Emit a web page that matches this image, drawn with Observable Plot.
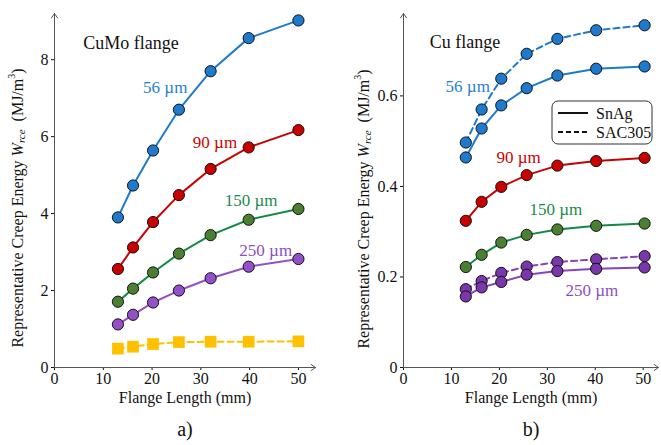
<!DOCTYPE html>
<html><head><meta charset="utf-8">
<script src="https://cdn.jsdelivr.net/npm/d3@7"></script>
<script src="https://cdn.jsdelivr.net/npm/@observablehq/plot@0.6"></script>
<style>
body{margin:0;background:#fff}
#wrap{display:flex;width:661px;height:445px;background:#fff}
svg text{font-family:"Liberation Serif","Times New Roman",Times,serif}
</style>
</head><body><div id="wrap"></div>
<script>
// ---- data ----
const xTicks = [0, 10, 20, 30, 40, 50];
const cumoYTicks = [0, 2, 4, 6, 8];
const cuYTicks = [0, 0.2, 0.4, 0.6];

const cumoLength = [13, 16.1, 20.2, 25.5, 32, 39.8, 50];
const cumo56 = [3.90, 4.73, 5.64, 6.70, 7.70, 8.56, 9.02];
const cumo90 = [2.56, 3.12, 3.78, 4.48, 5.16, 5.72, 6.17];
const cumo150 = [1.71, 2.05, 2.47, 2.96, 3.44, 3.84, 4.12];
const cumo250 = [1.12, 1.37, 1.69, 2.00, 2.32, 2.62, 2.82];
const cumoSquares = [0.49, 0.54, 0.61, 0.66, 0.67, 0.67, 0.68];

const cuLength = [13, 16.3, 20.4, 25.7, 32.1, 40.2, 50.3];
const cuSnAg56 = [0.464, 0.528, 0.579, 0.617, 0.645, 0.660, 0.665];
const cuSAC56 = [0.497, 0.570, 0.638, 0.693, 0.726, 0.745, 0.756];
const cuSnAg90 = [0.324, 0.366, 0.399, 0.425, 0.446, 0.456, 0.463];
const cuSnAg150 = [0.222, 0.249, 0.276, 0.293, 0.305, 0.313, 0.318];
const cuSnAg250 = [0.157, 0.177, 0.189, 0.205, 0.213, 0.218, 0.221];
const cuSAC250 = [0.173, 0.191, 0.209, 0.223, 0.233, 0.239, 0.246];

const seriesLabels = ["56 µm", "90 µm", "150 µm", "250 µm"];
const panelTitles = ["CuMo flange", "Cu flange"];
const panelTags = ["a)", "b)"];
const legendNames = ["SnAg", "SAC305"];
const xLabel = "Flange Length (mm)";

// ---- styles ----
const C = {
  blue: "#1f7acc", red: "#c80000", greenLine: "#138a45", greenDot: "#4b8033",
  purpleL: "#9450c8", purpleR: "#7a36ab", purpleRLine: "#8844b8", yellow: "#ffc000",
  blueT: "#1f7fd0", redT: "#cc0000", greenT: "#1a8a4a", purpleT: "#8a4fc0"
};
const FONT = "Liberation Serif, Times New Roman, Times, serif";

function pts(xs, ys) { return xs.map((x, i) => ({x, y: ys[i]})); }

function seriesMarks(xs, ys, stroke, fill, dashed, lineStroke) {
  const d = pts(xs, ys);
  return [
    Plot.line(d, {x: "x", y: "y", stroke: lineStroke || stroke, strokeWidth: 2,
      strokeDasharray: dashed ? "6,4" : null}),
    Plot.dot(d, {x: "x", y: "y", r: 5.6, fill, stroke: "#111", strokeWidth: 1})
  ];
}

function yLabel(svg, x, y) {
  const t = d3.select(svg).append("text")
    .attr("transform", `translate(${x},${y}) rotate(-90)`)
    .attr("text-anchor", "middle")
    .attr("dominant-baseline", "central")
    .attr("font-size", 16).attr("fill", "#111");
  t.append("tspan").text("Representative Creep Energy ");
  t.append("tspan").attr("font-style", "italic").text("W");
  t.append("tspan").attr("font-style", "italic").attr("font-size", 11).attr("dy", 4).text("rce");
  t.append("tspan").attr("dy", -4).text("\u2002(MJ/m");
  t.append("tspan").attr("font-size", 10).attr("dy", -6).text("3");
  t.append("tspan").attr("dy", 6).text(")");
}

function common(xMax, yMax, yTicks, fmt) {
  return [
    Plot.axisX({ticks: xTicks, tickSize: 3, tickPadding: 2, label: null, fontSize: 16}),
    Plot.axisY({ticks: yTicks, tickSize: 3, tickPadding: 3, label: null, fontSize: 16, tickFormat: fmt}),
    Plot.arrow([{x1: 0, y1: 0, x2: xMax, y2: 0}, {x1: 0, y1: 0, x2: 0, y2: yMax}],
      {x1: "x1", y1: "y1", x2: "x2", y2: "y2", stroke: "#555", strokeWidth: 1, headLength: 8, headAngle: 70}),
    Plot.text([xLabel], {frameAnchor: "bottom", dy: 35, fontSize: 16, fill: "#111"}),
  ];
}

const STYLE = {fontFamily: FONT, fontSize: "16px", background: "white", color: "#111", overflow: "visible"};

// ---- left panel ----
const leftXMax = 53.5, leftYMax = 9.2;
const leftAnn = [
  {x: 22.7, y: 7.27, text: seriesLabels[0], c: C.blueT},
  {x: 32.9, y: 5.84, text: seriesLabels[1], c: C.redT},
  {x: 40.3, y: 4.34, text: seriesLabels[2], c: C.greenT},
  {x: 43.3, y: 3.03, text: seriesLabels[3], c: C.purpleT}
];
const left = Plot.plot({
  width: 330, height: 445,
  marginLeft: 54, marginRight: 15, marginTop: 13, marginBottom: 78,
  x: {domain: [0, leftXMax]}, y: {domain: [0, leftYMax]},
  style: STYLE,
  marks: [
    ...common(leftXMax, leftYMax, cumoYTicks, d => String(d)),
    Plot.line(pts(cumoLength, cumoSquares), {x: "x", y: "y", stroke: C.yellow, strokeWidth: 2, strokeDasharray: "6,4"}),
    Plot.dot(pts(cumoLength, cumoSquares), {x: "x", y: "y", symbol: "square", r: 6.6, fill: C.yellow}),
    ...seriesMarks(cumoLength, cumo250, C.purpleL, C.purpleL),
    ...seriesMarks(cumoLength, cumo150, C.greenLine, C.greenDot),
    ...seriesMarks(cumoLength, cumo90, C.red, C.red),
    ...seriesMarks(cumoLength, cumo56, C.blue, C.blue),
    Plot.text(leftAnn, {x: "x", y: "y", text: "text", fill: d => d.c, fontSize: 17}),
    Plot.text([panelTitles[0]], {x: 5.9, y: 8.42, textAnchor: "start", fontSize: 18, fill: "#111"}),
    Plot.text([panelTags[0]], {frameAnchor: "bottom", dy: 68, fontSize: 20, fill: "#111"})
  ],
  color: {type: "identity"}
});
yLabel(left, 17, 208);

// ---- right panel ----
const rightXMax = 53.2, rightYMax = 0.782;
const rightAnn = [
  {x: 13.4, y: 0.621, text: seriesLabels[0], c: C.blueT},
  {x: 24.0, y: 0.464, text: seriesLabels[1], c: C.redT},
  {x: 31.8, y: 0.350, text: seriesLabels[2], c: C.greenT},
  {x: 39.3, y: 0.169, text: seriesLabels[3], c: C.purpleT}
];
const right = Plot.plot({
  width: 331, height: 445,
  marginLeft: 73, marginRight: 3, marginTop: 13, marginBottom: 78,
  x: {domain: [0, rightXMax]}, y: {domain: [0, rightYMax]},
  style: STYLE,
  marks: [
    ...common(rightXMax, rightYMax, cuYTicks, d => String(d)),
    ...seriesMarks(cuLength, cuSAC250, C.purpleRLine, C.purpleR, true),
    ...seriesMarks(cuLength, cuSnAg250, C.purpleRLine, C.purpleR),
    ...seriesMarks(cuLength, cuSnAg150, C.greenLine, C.greenDot),
    ...seriesMarks(cuLength, cuSnAg90, C.red, C.red),
    ...seriesMarks(cuLength, cuSAC56, C.blue, C.blue, true),
    ...seriesMarks(cuLength, cuSnAg56, C.blue, C.blue),
    Plot.text(rightAnn, {x: "x", y: "y", text: "text", fill: d => d.c, fontSize: 17}),
    Plot.text([panelTitles[1]], {x: 5.5, y: 0.718, textAnchor: "start", fontSize: 18, fill: "#111"}),
    Plot.text([panelTags[1]], {frameAnchor: "bottom", dy: 68, fontSize: 20, fill: "#111"})
  ],
  color: {type: "identity"}
});
yLabel(right, 33, 209);

// legend
const lg = d3.select(right).append("g").attr("font-size", 16).attr("text-anchor", "start");
lg.append("rect").attr("x", 222).attr("y", 101).attr("width", 100).attr("height", 43)
  .attr("rx", 6).attr("fill", "white").attr("stroke", "#333").attr("stroke-width", 1);
legendNames.forEach((name, i) => {
  const yy = 113 + i * 19;
  lg.append("line").attr("x1", 228).attr("x2", 258).attr("y1", yy).attr("y2", yy)
    .attr("stroke", "#111").attr("stroke-width", 2).attr("stroke-dasharray", i ? "5,3" : null);
  lg.append("text").attr("x", 266).attr("y", yy).attr("dominant-baseline", "central")
    .attr("text-anchor", "start").attr("fill", "#111").text(name);
});

document.getElementById("wrap").append(left, right);
</script>
</body></html>
